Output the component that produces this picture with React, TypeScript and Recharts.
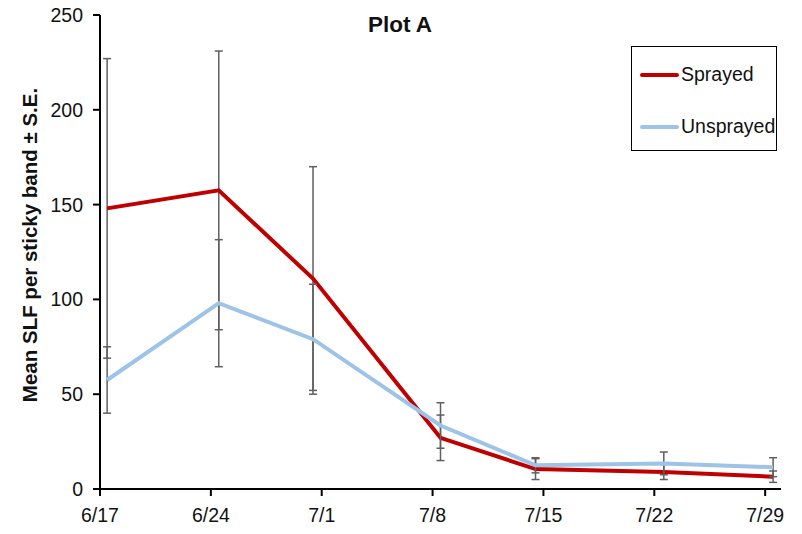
import React from 'react';
import { LineChart, Line, XAxis, YAxis, ErrorBar } from 'recharts';

// sampling dates (tick labels) and the day offset of each tick from 6/17
const dateLabels = ['6/17', '6/24', '7/1', '7/8', '7/15', '7/22', '7/29'];
const tickDays = [0, 7, 14, 21, 28, 35, 42];
// actual collection days, as read from where the points sit
const sampleDays = [0.45, 7.5, 13.45, 21.5, 27.5, 35.6, 42.5];

const sprayed = [148, 157.5, 111, 27, 10.5, 9, 6.5];
const sprayedSE = [79, 73.5, 59, 12, 5.5, 4, 3];
const unsprayed = [57.5, 98, 79, 33.5, 12.5, 13.5, 11.5];
const unsprayedSE = [17.5, 33.5, 29, 12, 4, 6, 5];

const yTicks = [0, 50, 100, 150, 200, 250];

const data = sampleDays.map((day, i) => ({
  day,
  sprayed: sprayed[i],
  sprayedErr: sprayedSE[i],
  unsprayed: unsprayed[i],
  unsprayedErr: unsprayedSE[i],
}));

const FONT = '"Liberation Sans", Arial, sans-serif';
const RED = '#C00000';
const BLUE = '#9DC3E6';

const App = () => {
  return (
    <div style={{ position: 'absolute', left: 0, top: 0, width: 802, height: 534, background: '#fff', fontFamily: FONT }}>
      <LineChart width={802} height={534} data={data} margin={{ top: 15, right: 21, bottom: 15, left: 40 }}>
        <XAxis
          type="number"
          dataKey="day"
          domain={[0, 43]}
          ticks={tickDays}
          tickFormatter={(v: number) => dateLabels[tickDays.indexOf(v)] ?? ''}
          height={30}
          tickSize={7}
          tickMargin={12}
          axisLine={{ stroke: '#000', strokeWidth: 2 }}
          tickLine={{ stroke: '#000', strokeWidth: 2 }}
          tick={{ fill: '#111', fontSize: 19.5, fontFamily: FONT }}
          allowDataOverflow
        />
        <YAxis
          domain={[0, 250]}
          ticks={yTicks}
          width={60}
          tickSize={7}
          tickMargin={10}
          axisLine={{ stroke: '#000', strokeWidth: 2 }}
          tickLine={{ stroke: '#000', strokeWidth: 2 }}
          tick={{ fill: '#111', fontSize: 19.5, fontFamily: FONT }}
        />
        <Line
          dataKey="sprayed"
          stroke={RED}
          strokeWidth={4}
          dot={false}
          isAnimationActive={false}
        >
          <ErrorBar dataKey="sprayedErr" direction="y" width={4} stroke="#5f5f5f" strokeWidth={1.5} />
        </Line>
        <Line
          dataKey="unsprayed"
          stroke={BLUE}
          strokeWidth={4}
          dot={false}
          isAnimationActive={false}
        >
          <ErrorBar dataKey="unsprayedErr" direction="y" width={4} stroke="#5f5f5f" strokeWidth={1.5} />
        </Line>
      </LineChart>

      {/* title */}
      <div style={{ position: 'absolute', left: 400, top: 25, transform: 'translate(-50%, -50%)', fontSize: 22.5, fontWeight: 'bold', color: '#111', whiteSpace: 'nowrap' }}>
        Plot A
      </div>

      {/* y axis title */}
      <div style={{ position: 'absolute', left: 30, top: 245, transform: 'translate(-50%, -50%) rotate(-90deg)', fontSize: 20.5, fontWeight: 'bold', color: '#111', whiteSpace: 'nowrap' }}>
        Mean SLF per sticky band ± S.E.
      </div>

      {/* legend */}
      <div style={{ position: 'absolute', left: 631, top: 46, width: 144, height: 103, border: '1.5px solid #000', background: '#fff' }}>
        {[{ name: 'Sprayed', color: RED, top: 16 }, { name: 'Unsprayed', color: BLUE, top: 68 }].map((item) => (
          <div key={item.name} style={{ position: 'absolute', left: 8, top: item.top, display: 'flex', alignItems: 'center', fontSize: 19.5, color: '#111', whiteSpace: 'nowrap' }}>
            <span style={{ display: 'inline-block', width: 39, height: 4, background: item.color, marginRight: 2, borderRadius: 2 }} />
            {item.name}
          </div>
        ))}
      </div>
    </div>
  );
};

export default App;
